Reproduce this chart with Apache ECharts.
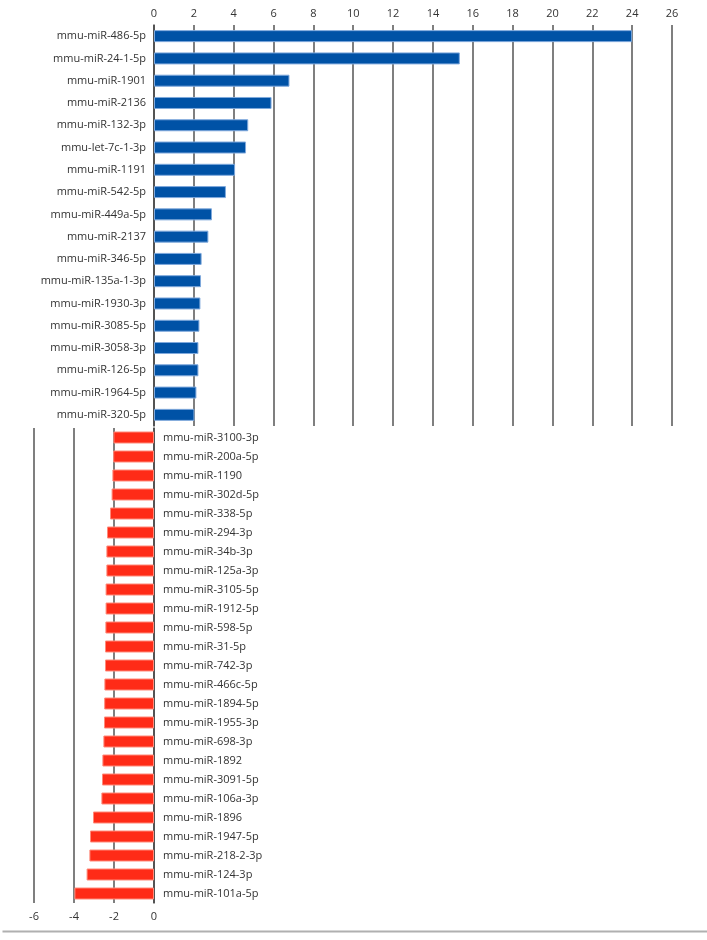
<!DOCTYPE html>
<html>
<head>
<meta charset="utf-8">
<script src="https://cdn.jsdelivr.net/npm/echarts@6/dist/echarts.min.js"></script>
<style>
  html, body { margin: 0; padding: 0; background: #fff; }
  #main { width: 707px; height: 940px; }
</style>
</head>
<body>
<div id="main"></div>
<script>
// up-regulated (top panel)
var upNames = ['mmu-miR-486-5p', 'mmu-miR-24-1-5p', 'mmu-miR-1901', 'mmu-miR-2136', 'mmu-miR-132-3p',
    'mmu-let-7c-1-3p', 'mmu-miR-1191', 'mmu-miR-542-5p', 'mmu-miR-449a-5p', 'mmu-miR-2137',
    'mmu-miR-346-5p', 'mmu-miR-135a-1-3p', 'mmu-miR-1930-3p', 'mmu-miR-3085-5p', 'mmu-miR-3058-3p',
    'mmu-miR-126-5p', 'mmu-miR-1964-5p', 'mmu-miR-320-5p'];
var upValues = [24.0, 15.35, 6.8, 5.9, 4.73, 4.62, 4.07, 3.61, 2.91, 2.73,
    2.39, 2.36, 2.33, 2.28, 2.23, 2.23, 2.13, 2.03];

// down-regulated (bottom panel)
var downNames = ['mmu-miR-3100-3p', 'mmu-miR-200a-5p', 'mmu-miR-1190', 'mmu-miR-302d-5p', 'mmu-miR-338-5p',
    'mmu-miR-294-3p', 'mmu-miR-34b-3p', 'mmu-miR-125a-3p', 'mmu-miR-3105-5p', 'mmu-miR-1912-5p',
    'mmu-miR-598-5p', 'mmu-miR-31-5p', 'mmu-miR-742-3p', 'mmu-miR-466c-5p', 'mmu-miR-1894-5p',
    'mmu-miR-1955-3p', 'mmu-miR-698-3p', 'mmu-miR-1892', 'mmu-miR-3091-5p', 'mmu-miR-106a-3p',
    'mmu-miR-1896', 'mmu-miR-1947-5p', 'mmu-miR-218-2-3p', 'mmu-miR-124-3p', 'mmu-miR-101a-5p'];
var downValues = [-2.03, -2.04, -2.08, -2.12, -2.2, -2.35, -2.38, -2.38, -2.42, -2.42,
    -2.43, -2.45, -2.45, -2.48, -2.49, -2.5, -2.53, -2.58, -2.6, -2.63,
    -3.05, -3.2, -3.23, -3.37, -3.98];

var topTicks = [0, 26, 2];
var bottomTicks = [-6, 0, 2];

var FONT = '"Open Sans", "Noto Sans", sans-serif';
var chart = echarts.init(document.getElementById('main'));

var gridLine = { show: true, lineStyle: { color: '#555', width: 1.5 } };
var tickText = { color: '#333', fontSize: 11, fontFamily: FONT };

var option = {
    animation: false,
    backgroundColor: '#fff',
    grid: [
        { left: 154, right: 35, top: 25, height: 401 },
        { left: 34, width: 120, top: 428, height: 475 }
    ],
    xAxis: [
        {
            gridIndex: 0, type: 'value', position: 'top',
            min: topTicks[0], max: topTicks[1], interval: topTicks[2],
            axisLine: { show: false }, axisTick: { show: false },
            axisLabel: Object.assign({ margin: 6 }, tickText),
            splitLine: gridLine
        },
        {
            gridIndex: 1, type: 'value', position: 'bottom',
            min: bottomTicks[0], max: bottomTicks[1], interval: bottomTicks[2],
            axisLine: { show: false }, axisTick: { show: false },
            axisLabel: Object.assign({ margin: 8 }, tickText),
            splitLine: gridLine
        }
    ],
    yAxis: [
        {
            gridIndex: 0, type: 'category', inverse: true, data: upNames,
            axisLine: { show: true, lineStyle: { color: '#444', width: 1.5 } },
            axisTick: { show: false },
            axisLabel: Object.assign({ margin: 8 }, tickText)
        },
        {
            gridIndex: 1, type: 'category', inverse: true, data: downNames, position: 'right',
            axisLine: { show: true, lineStyle: { color: '#444', width: 1.5 } },
            axisTick: { show: false },
            axisLabel: Object.assign({ margin: 9 }, tickText)
        }
    ],
    series: [
        {
            type: 'bar', xAxisIndex: 0, yAxisIndex: 0, data: upValues, barWidth: 12,
            itemStyle: { color: '#0052a6', borderColor: '#7fa9dc', borderWidth: 1 }
        },
        {
            type: 'bar', xAxisIndex: 1, yAxisIndex: 1, data: downValues, barWidth: 12,
            itemStyle: { color: '#ff2b17', borderColor: '#ff8a7a', borderWidth: 1 }
        }
    ],
    graphic: [
        {
            type: 'line', left: 0, top: 929,
            shape: { x1: 0, y1: 0, x2: 707, y2: 0 },
            style: { stroke: '#b0b0b0', lineWidth: 2 }
        }
    ]
};
chart.setOption(option);
</script>
</body>
</html>
